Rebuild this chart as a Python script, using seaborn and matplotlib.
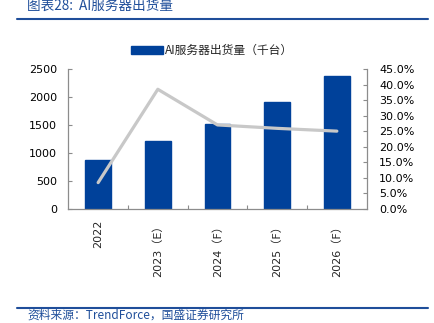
import matplotlib
matplotlib.use("Agg")
import matplotlib.pyplot as plt
import seaborn as sns
import pandas as pd
from matplotlib.lines import Line2D
from matplotlib.patches import Patch
from matplotlib.ticker import FuncFormatter, FixedLocator

categories = ["2022", "2023（E）", "2024（F）", "2025（F）", "2026（F）"]
shipments = [880, 1210, 1525, 1910, 2385]
growth = [8.4, 38.5, 27.0, 25.9, 25.0]

sns.set_theme(style="white")
plt.rcParams['font.family'] = ['DejaVu Sans', 'Noto Sans CJK SC']

df = pd.DataFrame({"cat": categories, "val": shipments, "g": growth})

fig = plt.figure(figsize=(4.35, 3.23), dpi=100)
ax = fig.add_axes([0.157, 0.354, 0.686, 0.432])

bar_color = "#00419A"
sns.barplot(data=df, x="cat", y="val", color=bar_color, width=0.43, ax=ax,
            saturation=1, edgecolor=bar_color)
ax.set_xlim(-0.5, 4.5)
ax.set_ylim(0, 2500)
ax.set_yticks([0, 500, 1000, 1500, 2000, 2500])
ax.set_xlabel("")
ax.set_ylabel("")

ax2 = ax.twinx()
sns.lineplot(x=list(range(len(categories))), y=growth, ax=ax2, color="#C8C8C8",
             linewidth=2.3, legend=False)
ax2.set_ylim(0, 45)
ax2.set_yticks([i * 5 for i in range(10)])
ax2.yaxis.set_major_formatter(FuncFormatter(lambda v, p: f"{v:.1f}%"))
ax2.set_ylabel("")

spine_c = "#8C8C8C"
for a in (ax, ax2):
    for s in a.spines.values():
        s.set_visible(False)
ax.spines['left'].set_visible(True)
ax.spines['bottom'].set_visible(True)
ax2.spines['right'].set_visible(True)
for s in (ax.spines['left'], ax.spines['bottom'], ax2.spines['right']):
    s.set_color(spine_c)
    s.set_linewidth(0.9)

ax.tick_params(axis='y', direction='in', length=3, width=0.8, color=spine_c,
               labelsize=8, pad=8, labelcolor='black', left=True)
ax2.tick_params(axis='y', direction='in', length=3, width=0.8, color=spine_c,
                labelsize=8, pad=9, labelcolor='black', right=True)
ax.set_xticks(range(len(categories)))
ax.set_xticklabels(categories, rotation=90, va='top', ha='center', fontsize=8)
ax.tick_params(axis='x', length=0, pad=8)
ax.xaxis.set_minor_locator(FixedLocator([0.5, 1.5, 2.5, 3.5]))
ax.tick_params(axis='x', which='minor', direction='in', length=3, width=0.8,
               color=spine_c, bottom=True)

handles = [Patch(facecolor=bar_color, edgecolor=bar_color)]
fig.legend(handles, ["AI服务器出货量（千台）"], loc='center',
           bbox_to_anchor=(0.488, 0.843), frameon=False,
           prop={'family': ['Noto Sans CJK SC'], 'size': 8.5},
           handlelength=2.7, handleheight=0.75, handletextpad=0.2)

title_c = "#1F4E9A"
fig.text(27 / 435, 1 - 6 / 323, "图表28:  AI服务器出货量", color=title_c,
         fontsize=9.8, style='italic', va='center', ha='left',
         family=['Noto Sans CJK SC', 'DejaVu Sans'])
fig.add_artist(Line2D([17 / 435, 428 / 435], [1 - 19 / 323, 1 - 19 / 323],
                      color="#1F4E9A", linewidth=1.5))
fig.add_artist(Line2D([17 / 435, 428 / 435], [1 - 308 / 323, 1 - 308 / 323],
                      color="#1F4E9A", linewidth=1.5))
fig.text(27 / 435, 1 - 322 / 323, "资料来源：TrendForce，国盛证券研究所", color=title_c,
         fontsize=8.5, style='italic', va='bottom', ha='left',
         family=['Noto Sans CJK SC', 'DejaVu Sans'])

fig.savefig("out.png", dpi=100)
